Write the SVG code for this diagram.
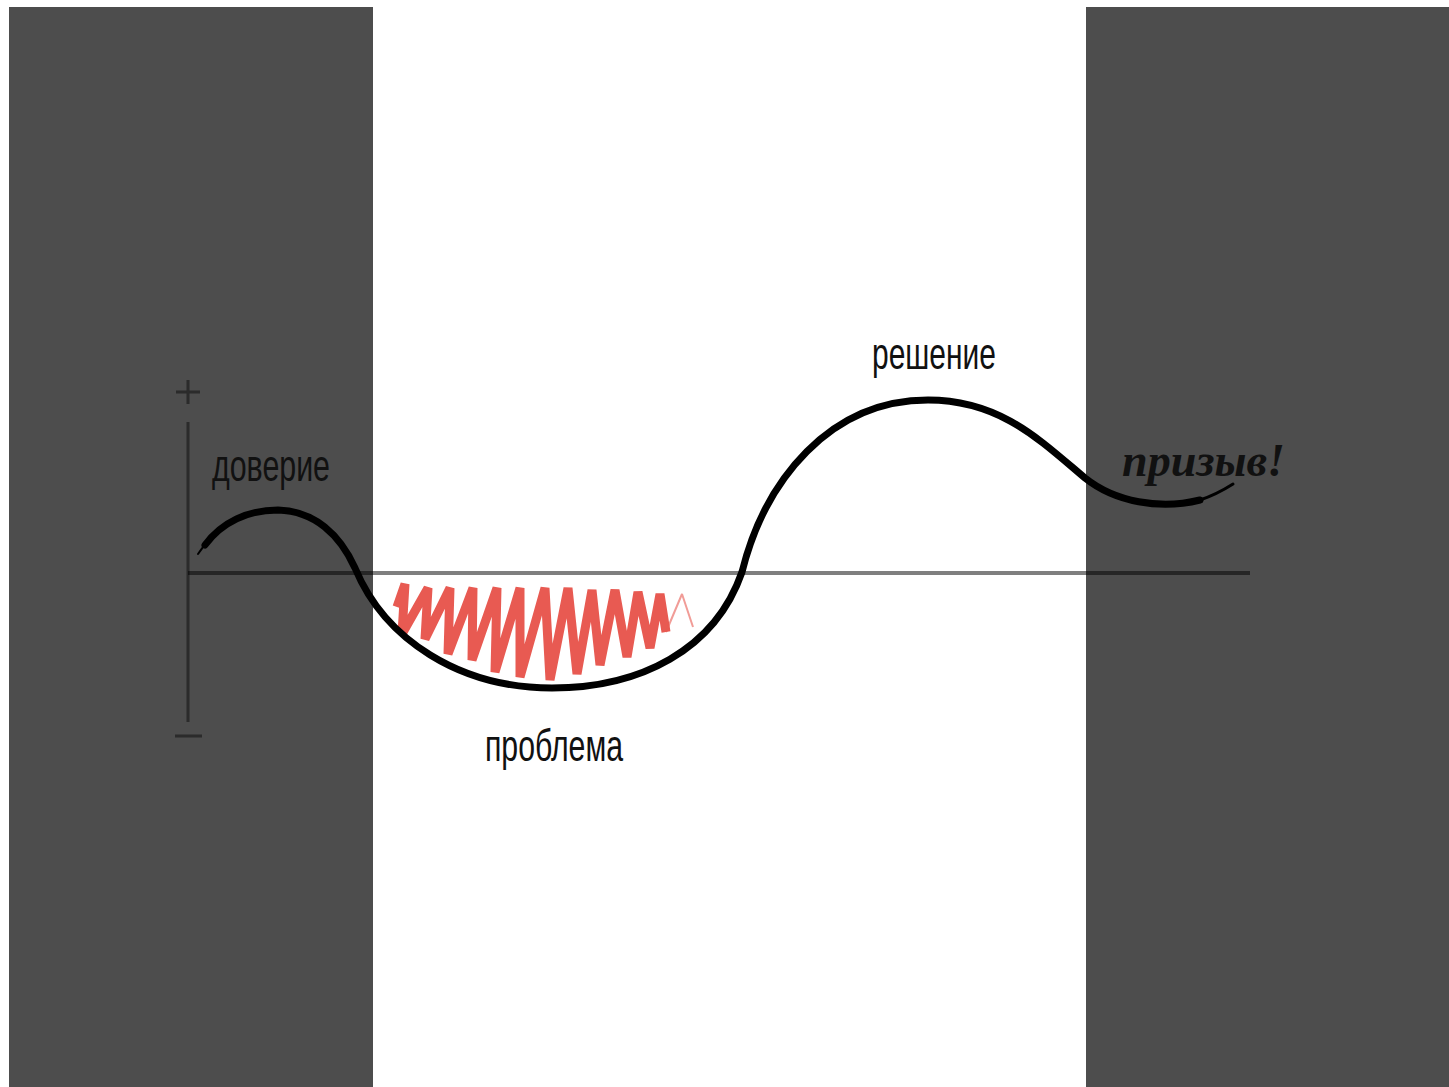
<svg xmlns="http://www.w3.org/2000/svg" width="1449" height="1087" viewBox="0 0 1449 1087">
<style>
.panel{fill:#4d4d4d}
.axis{stroke:#2b2b2b;stroke-width:3;fill:none}
.base{stroke:#000;stroke-opacity:0.5;stroke-width:4;fill:none}
.curve{stroke:#000;fill:none;stroke-linecap:round;stroke-linejoin:round}
.lbl{font-family:"Liberation Sans","DejaVu Sans",sans-serif;font-size:44px;fill:#111}
.call{font-family:"Liberation Serif","DejaVu Serif",serif;font-style:italic;font-weight:bold;font-size:46px;fill:#111}
.zig{fill:none;stroke:#e85a52;stroke-linejoin:bevel;stroke-linecap:butt}
</style>
<rect width="1449" height="1087" fill="#fff"/>
<g id="panel-left"><rect class="panel" x="9" y="7" width="364" height="1080"/></g>
<g id="panel-right"><rect class="panel" x="1086" y="7" width="363" height="1080"/></g>
<g id="axes">
<line class="axis" x1="188" y1="422" x2="188" y2="722"/>
<line class="axis" x1="176" y1="392" x2="200" y2="392"/>
<line class="axis" x1="188" y1="380" x2="188" y2="404"/>
<line class="axis" x1="175" y1="736" x2="202" y2="736"/>
<line class="base" x1="188" y1="573" x2="1250" y2="573"/>
</g>
<g id="zigzag">
<polyline class="zig" stroke-width="9" points="397,607 405,584 402,634 428,588 425,639 450,588 448,654 473,588 472,660 497,588 495,672 520,588 520,677 545,588 550,680 568,588 577,674 592,590 600,665 615,590 627,657 638,592 650,648 660,594 666,632"/>
<polyline class="zig" stroke-width="2" stroke-opacity="0.6" points="666,632 682,594 693,627"/>
</g>
<g id="connectors">
<path class="curve" stroke-width="7" d="M205,545 C222,522 248,510 278,510 C315,511 340,535 355,568 C385,640 460,688 552,688 C640,688 715,650 742,572 C765,480 830,400 928,400 C1000,400 1040,440 1085,478 C1115,502 1160,510 1200,500"/>
<path class="curve" stroke-width="2" d="M198,554 C200,551 202,548 205,545"/>
<path class="curve" stroke-width="3" d="M1200,500 C1212,496 1222,491 1233,484"/>
</g>
<g id="label-doverie"><text class="lbl" x="212" y="481" textLength="118" lengthAdjust="spacingAndGlyphs">доверие</text></g>
<g id="label-problema"><text class="lbl" x="485" y="761" textLength="138" lengthAdjust="spacingAndGlyphs">проблема</text></g>
<g id="label-reshenie"><text class="lbl" x="872" y="369" textLength="124" lengthAdjust="spacingAndGlyphs">решение</text></g>
<g id="label-prizyv"><text class="call" x="1122" y="476" textLength="163" lengthAdjust="spacingAndGlyphs">призыв!</text></g>
</svg>
